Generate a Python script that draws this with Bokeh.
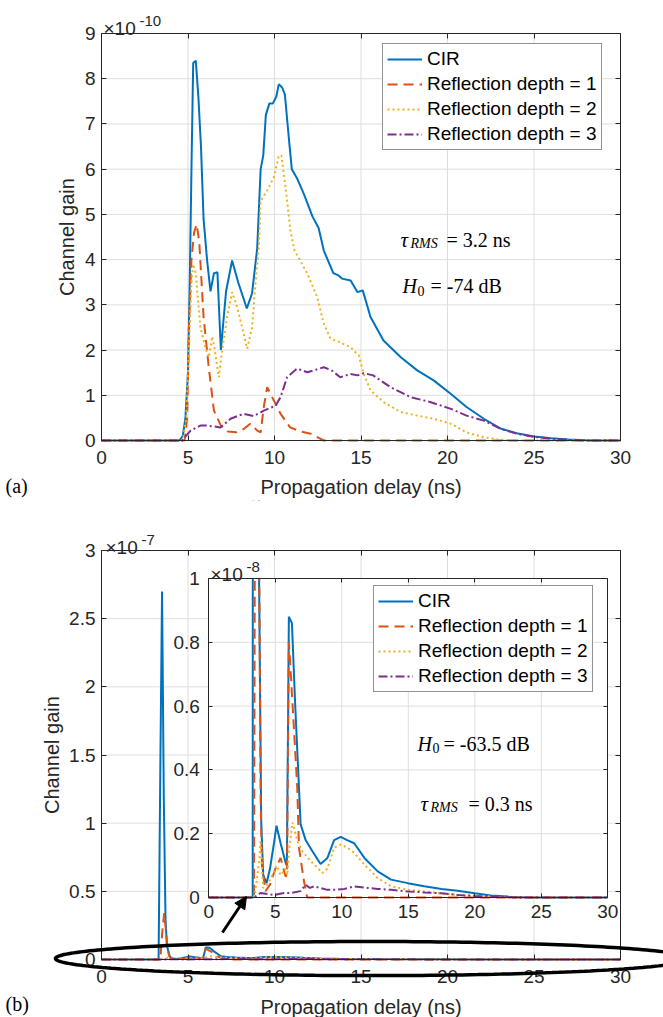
import numpy as np
from bokeh.plotting import figure
from bokeh.layouts import column
from bokeh.models import (Range1d, LinearAxis, FixedTicker, CustomJSTickFormatter,
                          Legend, LegendItem, Label, Arrow, NormalHead, PolyAnnotation)
from bokeh.embed import file_html
from bokeh.resources import INLINE

# ---------------- panel (a): delay (ns) / channel gain (x 1e-10) ----------------
a_cir_t = [0, 4.5, 4.7, 4.85, 5.0, 5.1, 5.2, 5.3, 5.45, 5.6, 5.75, 5.9, 6.1, 6.3, 6.5, 6.7, 6.9,
           7.2, 7.55, 7.9, 8.4, 8.7, 9.0, 9.2, 9.35, 9.5, 9.7, 9.9, 10.1, 10.25, 10.45, 10.6,
           10.85, 11.0, 11.3, 11.7, 12.2, 12.55, 12.85, 13.4, 13.7, 13.9, 14.4, 14.8, 15.1,
           15.55, 16.3, 17.3, 18.25, 19.2, 20.2, 21.1, 22.1, 23.1, 24, 25, 26, 27, 28, 29, 30]
a_cir_g = [0, 0, 0.1, 0.5, 1.5, 3.5, 6.0, 8.35, 8.4, 7.6, 6.5, 4.9, 4.0, 3.3, 3.7, 3.72, 2.0,
           3.3, 3.98, 3.5, 2.92, 3.25, 4.25, 6.0, 6.3, 7.2, 7.45, 7.45, 7.6, 7.88, 7.8, 7.65,
           6.6, 6.0, 5.8, 5.45, 4.95, 4.7, 4.2, 3.7, 3.65, 3.58, 3.54, 3.28, 3.32,
           2.73, 2.21, 1.84, 1.55, 1.33, 1.03, 0.74, 0.48, 0.26, 0.16, 0.09, 0.05, 0.02, 0.005, 0, 0]

a_r1_t = [0, 4.8, 4.95, 5.05, 5.2, 5.35, 5.5, 5.65, 5.9, 6.2, 6.5, 6.9, 7.3, 7.8, 8.2, 8.6, 9.0,
          9.2, 9.38, 9.58, 9.77, 10.06, 10.35, 10.9, 11.5, 12.1, 12.85, 30]
a_r1_g = [0, 0, 0.5, 2.5, 4.0, 4.6, 4.78, 4.4, 2.73, 1.62, 0.66, 0.33, 0.2, 0.18, 0.25, 0.37, 0.22,
          0.18, 0.74, 1.18, 1.03, 0.81, 0.59, 0.29, 0.2, 0.15, 0, 0]

a_r2_t = [0, 4.7, 4.9, 5.05, 5.2, 5.3, 5.45, 5.6, 5.72, 6.0, 6.2, 6.4, 6.55, 6.78, 6.98, 7.26,
          7.55, 7.84, 8.13, 8.42, 8.7, 8.9, 9.1, 9.2, 9.58, 9.96, 10.25, 10.4, 10.64, 10.92,
          11.16, 11.9, 12.47, 12.85, 13.24, 13.8, 14.4, 14.87, 15.16, 15.55, 16.3, 17.3, 18.25,
          19.2, 20.2, 21.1, 22.1, 23, 24, 30]
a_r2_g = [0, 0, 0.5, 2.0, 3.5, 3.9, 3.7, 3.0, 2.5, 2.06, 1.84, 2.3, 2.0, 1.4, 2.0, 2.73,
          3.28, 2.95, 2.5, 2.03, 2.5, 3.47, 4.3, 5.3, 5.53, 5.82, 6.3, 6.3, 5.6, 4.64,
          4.2, 3.69, 3.17, 2.58, 2.25, 2.17, 2.06, 1.88, 1.47, 1.11, 0.85, 0.63, 0.55,
          0.48, 0.37, 0.18, 0.07, 0.02, 0, 0]

a_r3_t = [0, 4.66, 5.15, 5.72, 6.1, 6.88, 7.46, 8.2, 8.8, 9.38, 10.06, 10.35, 10.73, 11.3, 11.9,
          12.27, 12.85, 13.3, 13.8, 14.4, 14.8, 15.16, 15.7, 16.7, 17.86, 19.0, 20.2, 21.1, 22.1,
          23.06, 24, 25, 26, 27, 28, 30]
a_r3_g = [0, 0, 0.22, 0.33, 0.33, 0.29, 0.48, 0.59, 0.54, 0.66, 0.77, 0.96, 1.4, 1.59, 1.51,
          1.55, 1.62, 1.55, 1.4, 1.47, 1.44, 1.49, 1.44, 1.18, 0.96, 0.85, 0.7, 0.55, 0.44,
          0.26, 0.15, 0.08, 0.04, 0.015, 0, 0]

# ---------------- panel (b): delay (ns) / channel gain (x 1e-8) ----------------
b_cir_t = [0, 3.3, 3.4, 3.5, 3.6, 3.7, 3.78, 3.94, 4.09, 4.34, 4.6, 4.9, 5.09, 5.4, 5.77, 5.87,
           5.97, 6.02, 6.25, 6.5, 6.78, 6.9, 7.28, 7.79, 8.4, 8.92, 9.42, 9.92, 10.4, 10.93,
           11.7, 12.7, 13.7, 14.96, 16.2, 17.5, 18.7, 20, 21.2, 22.5, 24, 30]
b_cir_g = [0, 0, 14, 27, 12, 3, 1.0, 0.24, 0.07, 0.045, 0.09, 0.17, 0.225, 0.17, 0.11, 0.1,
           0.6, 0.88, 0.86, 0.6, 0.345, 0.23, 0.18, 0.145, 0.105, 0.124, 0.18, 0.19, 0.18, 0.17,
           0.124, 0.082, 0.056, 0.045, 0.035, 0.027, 0.021, 0.013, 0.006, 0.003, 0, 0]

b_r1_t = [0, 3.4, 3.5, 3.62, 3.72, 3.8, 3.9, 4.0, 4.26, 4.6, 5.0, 5.4, 5.77, 5.88, 5.96, 6.02,
          6.1, 6.65, 6.78, 7.16, 7.4, 30]
b_r1_g = [0, 0, 1.8, 3.4, 2.2, 1.0, 0.3, 0.1, 0.02, 0.04, 0.09, 0.124, 0.066, 0.07, 0.5, 0.8,
          0.75, 0.345, 0.156, 0.05, 0, 0]

b_r2_t = [0, 3.4, 3.6, 3.8, 3.89, 4.09, 4.4, 4.9, 5.1, 5.4, 5.77, 5.9, 6.05, 6.28, 6.4, 6.65,
          7.03, 7.53, 8.17, 8.54, 8.92, 9.42, 9.92, 10.43, 10.93, 11.7, 12.7, 13.7, 14.96, 16.2,
          17.5, 18.7, 20, 21.2, 22.5, 30]
b_r2_g = [0, 0, 0.05, 0.12, 0.18, 0.03, 0.04, 0.08, 0.1, 0.07, 0.09, 0.07, 0.15, 0.235, 0.22,
          0.177, 0.145, 0.12, 0.093, 0.077, 0.09, 0.156, 0.166, 0.156, 0.14, 0.103, 0.061, 0.035,
          0.024, 0.019, 0.013, 0.008, 0.006, 0.003, 0, 0]

b_r3_t = [0, 3.3, 3.5, 3.89, 4.9, 5.65, 6.15, 6.9, 7.28, 7.6, 7.91, 8.92, 9.42, 10.2, 10.93,
          11.95, 12.7, 13.7, 14.96, 16.2, 17.5, 18.7, 20, 21.2, 23, 30]
b_r3_g = [0, 0, 0.003, 0.014, 0.008, 0.014, 0.014, 0.02, 0.04, 0.03, 0.035, 0.024, 0.024,
          0.027, 0.035, 0.03, 0.027, 0.024, 0.019, 0.016, 0.013, 0.008, 0.005, 0.003, 0, 0]

SERIES_NAMES = ["CIR", "Reflection depth = 1", "Reflection depth = 2", "Reflection depth = 3"]
X_TICKS = [0, 5, 10, 15, 20, 25, 30]
A_Y_TICKS = [0, 1, 2, 3, 4, 5, 6, 7, 8, 9]
B_Y_TICKS = [0, 0.5, 1, 1.5, 2, 2.5, 3]
INSET_Y_TICKS = [0, 0.2, 0.4, 0.6, 0.8, 1]

# ---------------- styling / layout ----------------
FONT = "Liberation Sans"
SERIF = "Liberation Serif"
AX = "#262626"
GRID = "#dedede"
COLORS = ["#0072BD", "#D95319", "#EDB120", "#7E2F8E"]
DASHES = ["solid", "10 6", "2 3", "9 3 2 3"]
LW = 2
W = 663
H_A, H_B = 500, 517          # figure heights; (b) starts at page y = 500
TOP_B = H_A


def outer_range(lo, hi, p_lo, p_hi, size):
    """Range whose [lo, hi] lands on pixels [p_lo, p_hi] of a frame of `size` px."""
    k = (hi - lo) / (p_hi - p_lo)
    return Range1d(start=lo - p_lo * k, end=hi + (size - p_hi) * k)


def style_axis(ax, ticks, labels=True, standoff=6, size="19px", tick_in=5):
    ax.ticker = FixedTicker(ticks=ticks)
    ax.formatter = CustomJSTickFormatter(code="return tick.toString();")
    ax.axis_line_color = AX
    ax.axis_line_width = 1
    ax.major_tick_line_color = AX
    ax.major_tick_in = tick_in
    ax.major_tick_out = 0
    ax.minor_tick_line_color = None
    ax.major_label_text_font = FONT
    ax.major_label_text_font_size = size
    ax.major_label_text_color = AX if labels else None
    ax.major_label_standoff = standoff
    ax.axis_label_text_font = FONT
    ax.axis_label_text_font_size = "20px"
    ax.axis_label_text_font_style = "normal"
    ax.axis_label_text_color = AX


def box_axes(p, xmax, ymax, xticks, yticks, xlabel=None, ylabel=None, ylab_standoff=4,
             xlab_standoff=5, x_standoff=8, y_standoff=6, tick_in=5, **rn):
    b = LinearAxis(fixed_location=0, bounds=(0, xmax), axis_label=xlabel, **rn)
    style_axis(b, xticks, standoff=x_standoff, tick_in=tick_in)
    b.axis_label_standoff = xlab_standoff
    l = LinearAxis(fixed_location=0, bounds=(0, ymax), axis_label=ylabel, **rn)
    style_axis(l, yticks, standoff=y_standoff, tick_in=tick_in)
    l.axis_label_standoff = ylab_standoff
    t = LinearAxis(fixed_location=ymax, bounds=(0, xmax), **rn)
    style_axis(t, xticks, labels=False, tick_in=tick_in)
    r = LinearAxis(fixed_location=xmax, bounds=(0, ymax), **rn)
    style_axis(r, yticks, labels=False, tick_in=tick_in)
    p.add_layout(b, "below")
    p.add_layout(l, "left")
    p.add_layout(t, "above")
    p.add_layout(r, "right")


def grid_lines(p, xmax, ymax, xticks, yticks, **rn):
    gx = xticks[1:-1]
    gy = yticks[1:-1]
    p.segment(x0=gx, y0=[0] * len(gx), x1=gx, y1=[ymax] * len(gx), line_color=GRID,
              line_width=1, **rn)
    p.segment(x0=[0] * len(gy), y0=gy, x1=[xmax] * len(gy), y1=gy, line_color=GRID,
              line_width=1, **rn)


def make_fig(height, yr, **kw):
    p = figure(width=W, height=height, x_range=outer_range(0, 30, 101, 620, W), y_range=yr,
               output_backend="svg", toolbar_location=None, x_axis_location=None,
               y_axis_location=None, min_border=0, **kw)
    for g in p.grid:
        g.visible = False
    p.outline_line_color = None
    p.background_fill_color = "white"
    p.border_fill_color = "white"
    return p


def add_label(p, top, height, ax, ay, text, size, font=FONT, style="normal", align="left",
              baseline="alphabetic", color=AX):
    """Place a text at page position (ax, ay) of a figure whose top is at page y `top`."""
    p.add_layout(Label(x=ax, y=top + height - ay, x_units="screen", y_units="screen",
                       text=text, text_font=font, text_font_size=size, text_font_style=style,
                       text_align=align, text_baseline=baseline, text_color=color))


LEG = dict(label_text_font=FONT, label_text_font_size="19px", label_text_color="black",
           glyph_width=35, glyph_height=20, label_height=20, label_standoff=5, spacing=3,
           padding=4, margin=0, border_line_color=AX, border_line_width=1,
           background_fill_color="white", background_fill_alpha=1)

# ================= panel (a) =================
pa = make_fig(H_A, outer_range(0, 9, H_A - 440, H_A - 33, H_A))
grid_lines(pa, 30, 9, X_TICKS, A_Y_TICKS)
A_SERIES = [(a_cir_t, a_cir_g), (a_r1_t, a_r1_g), (a_r2_t, a_r2_g), (a_r3_t, a_r3_g)]
ra = [pa.line(t, g, line_color=c, line_width=LW, line_dash=d)
      for (t, g), c, d in zip(A_SERIES, COLORS, DASHES)]
box_axes(pa, 30, 9, X_TICKS, A_Y_TICKS, xlabel="Propagation delay (ns)",
         ylabel="Channel gain", ylab_standoff=4, x_standoff=10, xlab_standoff=9)
pa.add_layout(Legend(items=[LegendItem(label=n, renderers=[r]) for n, r in zip(SERIES_NAMES, ra)],
                     location=(382, H_A - 150), **LEG))


def la(*a, **k):
    add_label(pa, 0, H_A, *a, **k)


la(103, 28, "\u00d710", "19px")
la(139, 20, "-10", "15px")
la(5, 485, "(a)", "20px", font=SERIF, color="black")
la(400, 239, "\u03c4", "21px", font=SERIF, style="italic", color="black")
la(410, 243, "RMS", "14px", font=SERIF, style="italic", color="black")
la(446, 239, "= 3.2 ns", "20px", font=SERIF, color="black")
la(402, 285.7, "H", "20px", font=SERIF, style="italic", color="black")
la(417, 290, "0", "14px", font=SERIF, color="black")
la(430, 285.7, "= -74 dB", "20px", font=SERIF, color="black")

# ================= panel (b) =================
pb = make_fig(H_B, outer_range(0, 3, 1017 - 959, 1017 - 550, H_B),
              extra_x_ranges={"ix": outer_range(0, 30, 208.3, 607.3, W)},
              extra_y_ranges={"iy": outer_range(0, 1, 1017 - 897, 1017 - 578, H_B)})
IX = dict(x_range_name="ix", y_range_name="iy")
grid_lines(pb, 30, 3, X_TICKS, B_Y_TICKS)
B_SERIES = [(b_cir_t, b_cir_g), (b_r1_t, b_r1_g), (b_r2_t, b_r2_g), (b_r3_t, b_r3_g)]
for (t, g), c, d in zip(B_SERIES, COLORS, DASHES):
    pb.line(t, np.asarray(g) / 10.0, line_color=c, line_width=LW, line_dash=d)
box_axes(pb, 30, 3, X_TICKS, B_Y_TICKS, xlabel="Propagation delay (ns)",
         ylabel="Channel gain", ylab_standoff=3, x_standoff=10, xlab_standoff=10)

# ---- inset (same data, x 1e-8) ----
pb.quad(left=[0], right=[30], bottom=[0], top=[1], fill_color="white", line_color=None, **IX)
grid_lines(pb, 30, 1, X_TICKS, INSET_Y_TICKS, **IX)
rb = [pb.line(t, g, line_color=c, line_width=LW, line_dash=d, **IX)
      for (t, g), c, d in zip(B_SERIES, COLORS, DASHES)]
# the off-scale peak is cut at the inset's upper limit
pb.quad(left=[3.0], right=[4.4], bottom=[1], top=[3], fill_color="white", line_color=None, **IX)
box_axes(pb, 30, 1, X_TICKS, INSET_Y_TICKS, x_standoff=7, y_standoff=9, tick_in=4, **IX)
pb.add_layout(Legend(items=[LegendItem(label=n, renderers=[r]) for n, r in zip(SERIES_NAMES, rb)],
                     location=(373, 1017 - 692), **LEG))


def lb(*a, **k):
    add_label(pb, TOP_B, H_B, *a, **k)


lb(105, 547, "\u00d710", "19px")
lb(141, 539, "-7", "15px")
lb(210, 574, "\u00d710", "19px")
lb(246, 566, "-8", "15px")
lb(5, 1003, "(b)", "20px", font=SERIF, color="black")
lb(417, 743.3, "H", "20px", font=SERIF, style="italic", color="black")
lb(432, 747, "0", "14px", font=SERIF, color="black")
lb(443, 743.3, "= -63.5 dB", "20px", font=SERIF, color="black")
lb(420, 803.3, "\u03c4", "21px", font=SERIF, style="italic", color="black")
lb(430, 807, "RMS", "14px", font=SERIF, style="italic", color="black")
lb(468, 803.3, "= 0.3 ns", "20px", font=SERIF, color="black")

# highlight ellipse and arrow (annotations in data units of the main axes)
th = np.linspace(0, 2 * np.pi, 241)
ecx, ecy, ea, eb = 15.66, 0.007, 18.32, 0.125
pb.add_layout(PolyAnnotation(xs=list(ecx + ea * np.cos(th)), ys=list(ecy + eb * np.sin(th)),
                             fill_alpha=0, line_color="black", line_alpha=1, line_width=3.5))
pb.add_layout(Arrow(end=NormalHead(size=12, fill_color="black", line_color="black"),
                    x_start=6.99, y_start=0.198, x_end=8.38, y_end=0.462,
                    line_color="black", line_width=3))

layout = column(pa, pb)
open("out.html", "w").write(file_html(layout, INLINE))
